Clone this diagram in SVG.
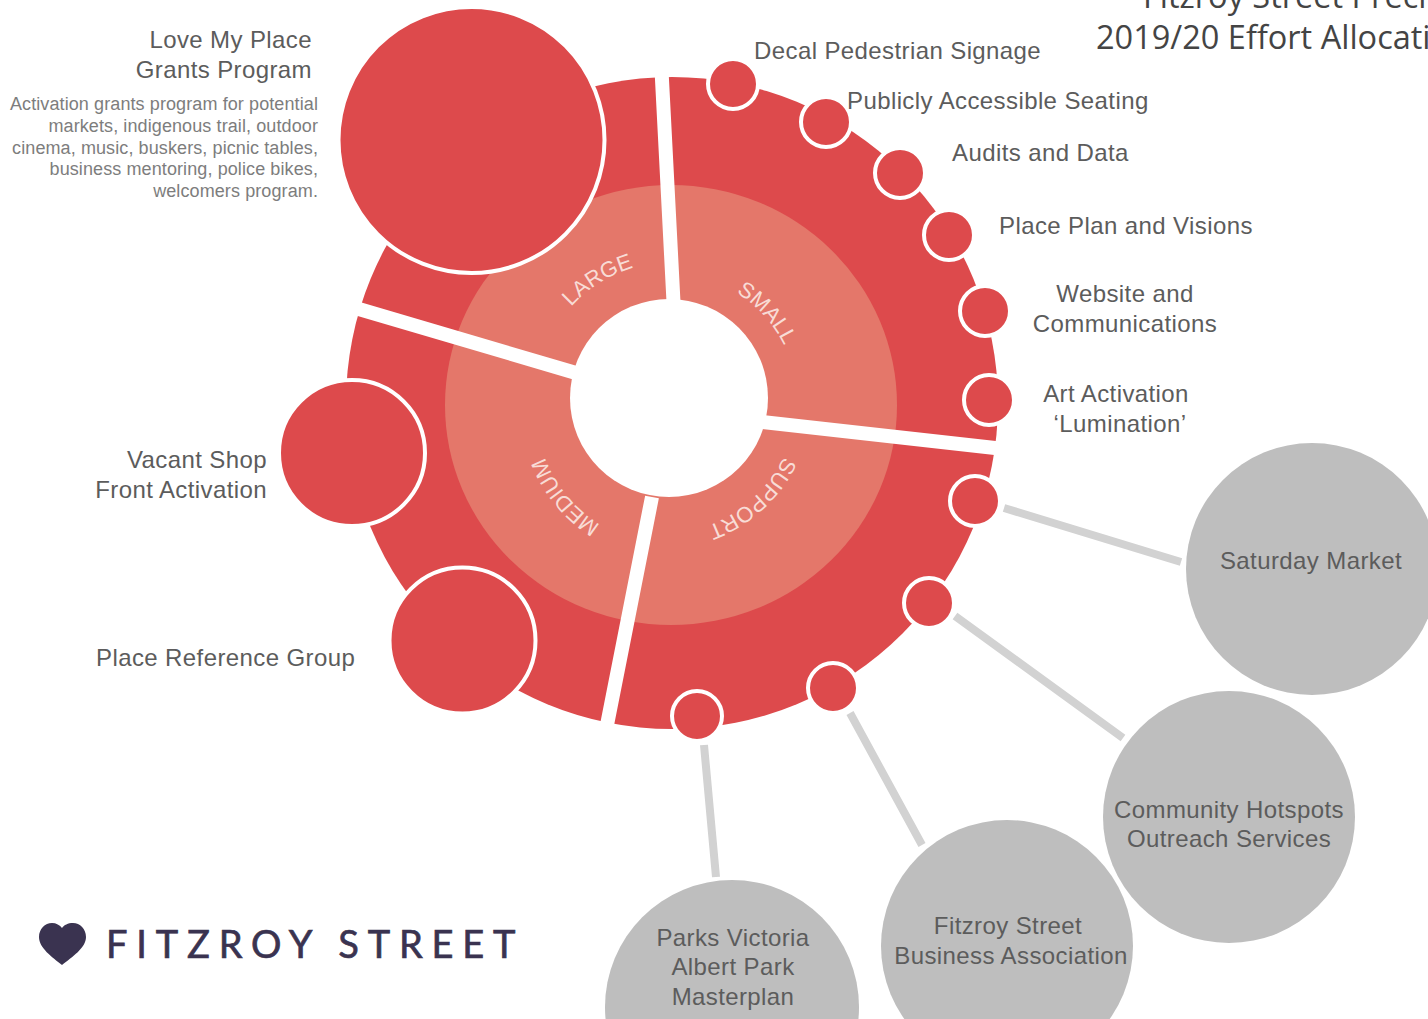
<svg xmlns="http://www.w3.org/2000/svg" width="1428" height="1019" viewBox="0 0 1428 1019">
<style>
.t{font-family:"Liberation Sans",Arial,sans-serif;font-size:24px;letter-spacing:.4px;fill:#5c5c5c}
.m{text-anchor:middle}
.e{text-anchor:end}
.d{font-family:"Liberation Sans",Arial,sans-serif;font-size:18px;letter-spacing:.1px;fill:#7d7d7d;text-anchor:end}
.r{fill:#dd4a4c;stroke:#fff;stroke-width:4}
.g{fill:#bebebe}
.c{stroke:#d2d2d2;stroke-width:8;fill:none}
.w{stroke:#fff;stroke-width:14;fill:none}
.s{font-family:"Liberation Sans",Arial,sans-serif;font-size:22px;fill:#f8dcd6;text-anchor:middle}
.h{font-family:"Open Sans",sans-serif;font-size:32.5px;letter-spacing:0;fill:#444}
</style>
<defs>
<path id="aL" d="M 546 340 A 136 136 0 0 1 670 262"/>
<path id="aS" d="M 700 270 A 126 126 0 0 1 800 380"/>
<path id="aM" d="M 640 530 A 136 136 0 0 1 533 400"/>
<path id="aP" d="M 805 420 A 136 136 0 0 1 680 534"/>
</defs>
<rect width="1428" height="1019" fill="#fff"/>
<g id="wheel">
<circle cx="672" cy="403" r="326" fill="#dd4a4c"/>
<ellipse cx="671" cy="405" rx="226" ry="220" fill="#e4776a"/>
<circle cx="669" cy="398" r="99" fill="#fff"/>
<path class="w" d="M661.5 70L673.5 302M352 307L576 373M762 422L1004 449M652 497L606 730"/>
<text class="s" transform="translate(3 0)"><textPath href="#aL" startOffset="50%">LARGE</textPath></text>
<text class="s" transform="translate(-4 7)"><textPath href="#aS" startOffset="50%">SMALL</textPath></text>
<text class="s" transform="translate(3 12)"><textPath href="#aM" startOffset="50%">MEDIUM</textPath></text>
<text class="s" transform="translate(-10 0)"><textPath href="#aP" startOffset="50%">SUPPORT</textPath></text>
</g>
<g id="connectors">
<path class="c" d="M1004 508L1181 562M955 616L1123 738M850 713L922 845M704 745L716 877"/>
</g>
<g id="title">
<text class="h" x="1143" y="8">Fitzroy Street Preci</text>
<text class="h" x="1096" y="49">2019/20 Effort Allocati</text>
</g>
<g id="love-my-place">
<circle class="r" cx="471.500" cy="140" r="133"/>
<text class="t e" x="312" y="48">Love My Place</text>
<text class="t e" x="312" y="78">Grants Program</text>
<text class="d" x="318" y="110">Activation grants program for potential</text>
<text class="d" x="318" y="132">markets, indigenous trail, outdoor</text>
<text class="d" x="318" y="154">cinema, music, buskers, picnic tables,</text>
<text class="d" x="318" y="175">business mentoring, police bikes,</text>
<text class="d" x="318" y="197">welcomers program.</text>
</g>
<g id="vacant-shop">
<circle class="r" cx="352" cy="453" r="73"/>
<text class="t e" x="267" y="468">Vacant Shop</text>
<text class="t e" x="267" y="498">Front Activation</text>
</g>
<g id="place-reference">
<circle class="r" cx="462.500" cy="640.500" r="73"/>
<text class="t" x="96" y="666">Place Reference Group</text>
</g>
<g id="decal"><circle class="r" cx="733" cy="84" r="25"/><text class="t" x="754" y="59">Decal Pedestrian Signage</text></g>
<g id="seating"><circle class="r" cx="826" cy="122" r="25"/><text class="t" x="847" y="109">Publicly Accessible Seating</text></g>
<g id="audits"><circle class="r" cx="900" cy="173" r="25"/><text class="t" x="952" y="161">Audits and Data</text></g>
<g id="place-plan"><circle class="r" cx="949" cy="235" r="25"/><text class="t" x="999" y="234">Place Plan and Visions</text></g>
<g id="website"><circle class="r" cx="985" cy="311" r="25"/><text class="t m" x="1125" y="302">Website and</text><text class="t m" x="1125" y="332">Communications</text></g>
<g id="art"><circle class="r" cx="989" cy="400" r="25"/><text class="t m" x="1116" y="402">Art Activation</text><text class="t m" x="1120" y="432">‘Lumination’</text></g>
<g id="saturday-market">
<circle class="r" cx="975" cy="501" r="25"/>
<circle class="g" cx="1312" cy="569" r="126"/>
<text class="t m" x="1311" y="569">Saturday Market</text>
</g>
<g id="community-hotspots">
<circle class="r" cx="929" cy="603" r="25"/>
<circle class="g" cx="1229" cy="817" r="126"/>
<text class="t m" x="1229" y="818">Community Hotspots</text>
<text class="t m" x="1229" y="847">Outreach Services</text>
</g>
<g id="business-association">
<circle class="r" cx="833" cy="688" r="25"/>
<circle class="g" cx="1007" cy="946" r="126"/>
<text class="t m" x="1008" y="934">Fitzroy Street</text>
<text class="t m" x="1011" y="964">Business Association</text>
</g>
<g id="parks-victoria">
<circle class="r" cx="697" cy="716" r="25"/>
<circle class="g" cx="732" cy="1007" r="127"/>
<text class="t m" x="733" y="946">Parks Victoria</text>
<text class="t m" x="733" y="975">Albert Park</text>
<text class="t m" x="733" y="1005">Masterplan</text>
</g>
<g id="logo">
<path d="M62 965C52 957 39 948 39 937C39 929 45 923 52 923C56 923 60 925 62 928C64 925 68 923 73 923C80 923 86 929 86 937C86 948 72 957 62 965Z" fill="#3a3350"/>
<text x="106" y="958" font-family="Lato,sans-serif" font-size="38" letter-spacing="8.8" fill="#3a3350" stroke="#3a3350" stroke-width=".7">FITZROY STREET</text>
</g>
</svg>
